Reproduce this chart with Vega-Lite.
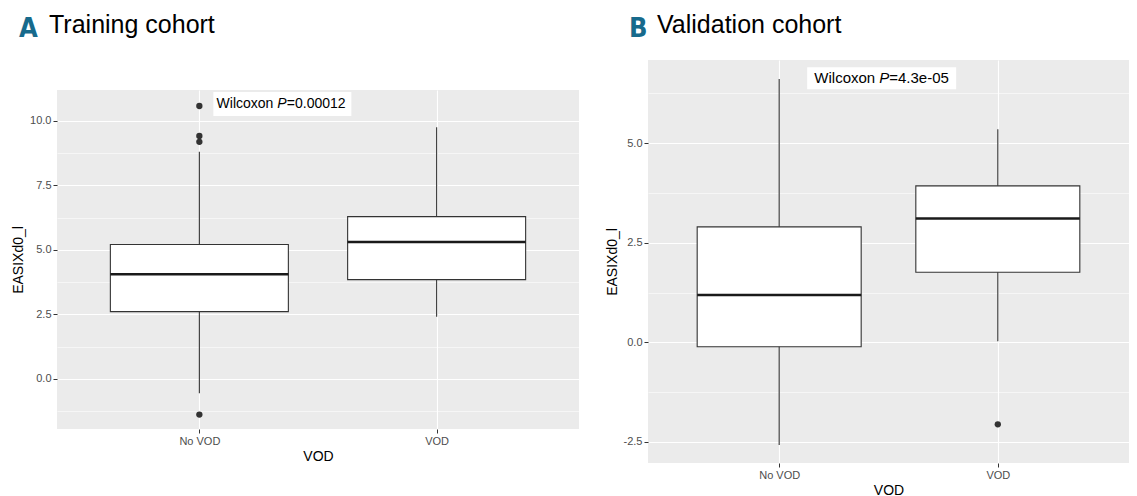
{
  "$schema": "https://vega.github.io/schema/vega-lite/v6.json",
  "padding": {"left": 11, "top": 13, "right": 0, "bottom": 0},
  "background": "white",
  "config": {
    "font": "Liberation Sans",
    "view": {"stroke": null},
    "axis": {
      "labelFont": "Liberation Sans",
      "labelFontSize": 11,
      "labelColor": "#4D4D4D",
      "tickColor": "#333333",
      "tickSize": 4,
      "tickWidth": 1,
      "domain": false,
      "gridColor": "white",
      "titleFont": "Liberation Sans",
      "titleFontSize": 14,
      "titleFontWeight": "normal",
      "titleColor": "black",
      "labelPadding": 2
    },
    "title": {"fontWeight": "normal", "color": "black", "font": "Liberation Sans"}
  },
  "datasets": {
    "trainBox": [
      {"VOD": "No VOD", "lower": -0.55, "q1": 2.61, "median": 4.06, "q3": 5.21, "upper": 8.81},
      {"VOD": "VOD", "lower": 2.41, "q1": 3.85, "median": 5.31, "q3": 6.29, "upper": 9.76}
    ],
    "trainOut": [
      {"VOD": "No VOD", "value": 10.58},
      {"VOD": "No VOD", "value": 9.42},
      {"VOD": "No VOD", "value": 9.19},
      {"VOD": "No VOD", "value": -1.38}
    ],
    "trainLab": [{"VOD": "No VOD", "y": 10.66, "test": "Wilcoxon", "p": "P", "value": "=0.00012"}],
    "valBox": [
      {"VOD": "No VOD", "lower": -2.58, "q1": -0.11, "median": 1.19, "q3": 2.9, "upper": 6.61},
      {"VOD": "VOD", "lower": 0.03, "q1": 1.76, "median": 3.11, "q3": 3.93, "upper": 5.35}
    ],
    "valOut": [{"VOD": "VOD", "value": -2.06}],
    "valLab": [{"VOD": "No VOD", "y": 6.63, "test": "Wilcoxon", "p": "P", "value": "=4.3e-05"}]
  },
  "spacing": 26,
  "hconcat": [
    {
      "title": {"text": "A", "anchor": "start", "frame": "group", "dx": -38, "dy": 30, "offset": 0, "color": "#176A8C", "font": "DejaVu Sans Condensed", "fontWeight": "bold", "fontSize": 27},
      "spacing": 0,
      "vconcat": [
        {
          "width": 522,
          "height": 30,
          "data": {"values": []},
          "mark": {"type": "point", "opacity": 0},
          "encoding": {},
          "title": {"text": "Training cohort", "anchor": "start", "frame": "group", "dx": -8, "offset": 22, "fontSize": 25}
        },
        {
          "width": 522,
          "height": 339,
          "view": {"fill": "#EBEBEB"},
          "encoding": {
            "x": {
              "field": "VOD", "type": "nominal",
              "scale": {"type": "point", "padding": 0.6, "domain": ["No VOD", "VOD"]},
              "axis": {"title": "VOD", "grid": true, "gridWidth": 1.1, "labelAngle": 0, "titlePadding": 3}
            }
          },
          "resolve": {"axis": {"y": "independent"}},
          "layer": [
            {
              "data": {"name": "trainBox"},
              "mark": {"type": "rule", "color": "#333333", "strokeWidth": 1.1},
              "encoding": {
                "y": {"field": "lower", "type": "quantitative", "scale": {"domain": [-1.94, 11.2], "nice": false, "zero": false},
                  "axis": {"values": [0, 2.5, 5, 7.5, 10], "labelExpr": "replace(format(datum.value, '.1f'), '\u2212', '-')", "title": "EASIXd0_l", "grid": true, "gridWidth": 1.1, "orient": "left", "titlePadding": 4}},
                "y2": {"field": "upper"}
              }
            },
            {
              "data": {"name": "trainBox"},
              "mark": {"type": "bar", "size": 178, "fill": "white", "stroke": "#333333", "strokeWidth": 1.1},
              "encoding": {
                "y": {"field": "q1", "type": "quantitative",
                  "axis": {"values": [-1.25, 1.25, 3.75, 6.25, 8.75], "grid": true, "gridWidth": 0.55, "labels": false, "ticks": false, "title": null, "orient": "left"}},
                "y2": {"field": "q3"}
              }
            },
            {
              "data": {"name": "trainBox"},
              "mark": {"type": "tick", "size": 178, "thickness": 2.5, "color": "#1A1A1A", "opacity": 1},
              "encoding": {"y": {"field": "median", "type": "quantitative", "axis": null}}
            },
            {
              "data": {"name": "trainOut"},
              "mark": {"type": "point", "filled": true, "color": "#333333", "size": 40, "opacity": 1},
              "encoding": {"y": {"field": "value", "type": "quantitative", "axis": null}}
            },
            {
              "data": {"name": "trainLab"},
              "mark": {"type": "point", "shape": "M14,-12H152V12H14Z", "size": 4, "filled": true, "color": "white", "opacity": 1},
              "encoding": {"y": {"field": "y", "type": "quantitative", "axis": null}}
            },
            {
              "data": {"name": "trainLab"},
              "mark": {"type": "text", "align": "right", "baseline": "middle", "dx": 74, "fontSize": 14, "color": "black"},
              "encoding": {"y": {"field": "y", "type": "quantitative", "axis": null}, "text": {"field": "test"}}
            },
            {
              "data": {"name": "trainLab"},
              "mark": {"type": "text", "align": "left", "baseline": "middle", "dx": 78, "fontSize": 14, "fontStyle": "italic", "color": "black"},
              "encoding": {"y": {"field": "y", "type": "quantitative", "axis": null}, "text": {"field": "p"}}
            },
            {
              "data": {"name": "trainLab"},
              "mark": {"type": "text", "align": "left", "baseline": "middle", "dx": 87.5, "fontSize": 14, "color": "black"},
              "encoding": {"y": {"field": "y", "type": "quantitative", "axis": null}, "text": {"field": "value"}}
            }
          ]
        }
      ]
    },
    {
      "title": {"text": "B", "anchor": "start", "frame": "group", "dx": -19, "dy": 30, "offset": 0, "color": "#176A8C", "font": "DejaVu Sans Condensed", "fontWeight": "bold", "fontSize": 27},
      "spacing": 0,
      "vconcat": [
        {
          "width": 481,
          "height": 403,
          "view": {"fill": "#EBEBEB"},
          "title": {"text": "Validation cohort", "anchor": "start", "frame": "group", "dx": 9, "offset": 22, "fontSize": 25},
          "encoding": {
            "x": {
              "field": "VOD", "type": "nominal",
              "scale": {"type": "point", "padding": 0.6, "domain": ["No VOD", "VOD"]},
              "axis": {"title": "VOD", "grid": true, "gridWidth": 1.1, "labelAngle": 0, "titlePadding": 3}
            }
          },
          "resolve": {"axis": {"y": "independent"}},
          "layer": [
            {
              "data": {"name": "valBox"},
              "mark": {"type": "rule", "color": "#333333", "strokeWidth": 1.1},
              "encoding": {
                "y": {"field": "lower", "type": "quantitative", "scale": {"domain": [-3.03, 7.09], "nice": false, "zero": false},
                  "axis": {"values": [-2.5, 0, 2.5, 5], "labelExpr": "replace(format(datum.value, '.1f'), '\u2212', '-')", "title": "EASIXd0_l", "grid": true, "gridWidth": 1.1, "orient": "left", "titlePadding": 4}},
                "y2": {"field": "upper"}
              }
            },
            {
              "data": {"name": "valBox"},
              "mark": {"type": "bar", "size": 164, "fill": "white", "stroke": "#333333", "strokeWidth": 1.1},
              "encoding": {
                "y": {"field": "q1", "type": "quantitative",
                  "axis": {"values": [-1.25, 1.25, 3.75, 6.25], "grid": true, "gridWidth": 0.55, "labels": false, "ticks": false, "title": null, "orient": "left"}},
                "y2": {"field": "q3"}
              }
            },
            {
              "data": {"name": "valBox"},
              "mark": {"type": "tick", "size": 164, "thickness": 2.5, "color": "#1A1A1A", "opacity": 1},
              "encoding": {"y": {"field": "median", "type": "quantitative", "axis": null}}
            },
            {
              "data": {"name": "valOut"},
              "mark": {"type": "point", "filled": true, "color": "#333333", "size": 40, "opacity": 1},
              "encoding": {"y": {"field": "value", "type": "quantitative", "axis": null}}
            },
            {
              "data": {"name": "valLab"},
              "mark": {"type": "point", "shape": "M28,-11H177V11H28Z", "size": 4, "filled": true, "color": "white", "opacity": 1},
              "encoding": {"y": {"field": "y", "type": "quantitative", "axis": null}}
            },
            {
              "data": {"name": "valLab"},
              "mark": {"type": "text", "align": "right", "baseline": "middle", "dx": 96, "fontSize": 15, "color": "black"},
              "encoding": {"y": {"field": "y", "type": "quantitative", "axis": null}, "text": {"field": "test"}}
            },
            {
              "data": {"name": "valLab"},
              "mark": {"type": "text", "align": "left", "baseline": "middle", "dx": 100, "fontSize": 15, "fontStyle": "italic", "color": "black"},
              "encoding": {"y": {"field": "y", "type": "quantitative", "axis": null}, "text": {"field": "p"}}
            },
            {
              "data": {"name": "valLab"},
              "mark": {"type": "text", "align": "left", "baseline": "middle", "dx": 110, "fontSize": 15, "color": "black"},
              "encoding": {"y": {"field": "y", "type": "quantitative", "axis": null}, "text": {"field": "value"}}
            }
          ]
        }
      ]
    }
  ]
}
